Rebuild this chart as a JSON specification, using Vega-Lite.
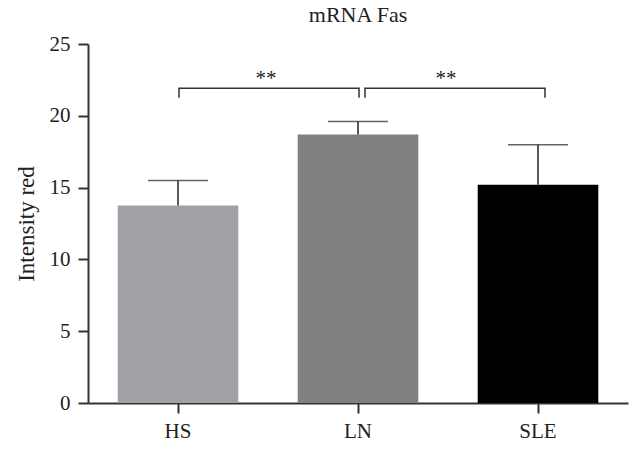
{
  "$schema": "https://vega.github.io/schema/vega-lite/v6.json",
  "width": 540,
  "height": 359,
  "autosize": {"type": "none"},
  "padding": {"left": 88, "top": 44, "right": 14, "bottom": 48},
  "background": "white",
  "title": {"text": "mRNA Fas", "font": "Liberation Serif", "fontSize": 22, "fontWeight": "normal", "color": "#222", "anchor": "middle", "offset": 6},
  "config": {
    "view": {"stroke": null},
    "axis": {"labelFont": "Liberation Serif", "titleFont": "Liberation Serif", "labelColor": "#222", "titleColor": "#222", "domainColor": "#333", "tickColor": "#333", "domainWidth": 2, "tickWidth": 2, "tickSize": 10, "grid": false, "labelFontSize": 21, "titleFontSize": 23, "titleFontWeight": "normal"}
  },
  "datasets": {
    "bars": [
      {"group": "HS", "mean": 13.75, "upper": 15.5},
      {"group": "LN", "mean": 18.7, "upper": 19.6},
      {"group": "SLE", "mean": 15.19, "upper": 17.98}
    ],
    "bracket": [
      {"pair": "a", "g": "HS", "y": 21.25, "o": 1},
      {"pair": "a", "g": "HS", "y": 21.92, "o": 2},
      {"pair": "a", "g": "LN", "y": 21.92, "o": 3},
      {"pair": "a", "g": "LN", "y": 21.25, "o": 4},
      {"pair": "b", "g": "LN", "y": 21.25, "o": 1},
      {"pair": "b", "g": "LN", "y": 21.92, "o": 2},
      {"pair": "b", "g": "SLE", "y": 21.92, "o": 3},
      {"pair": "b", "g": "SLE", "y": 21.25, "o": 4}
    ],
    "stars": [
      {"g": "HS", "label": "**"},
      {"g": "LN", "label": "**"}
    ]
  },
  "layer": [
    {
      "data": {"name": "bars"},
      "mark": {"type": "bar"},
      "encoding": {
        "x": {"field": "group", "type": "nominal", "sort": ["HS", "LN", "SLE"], "scale": {"paddingInner": 0.33, "paddingOuter": 0.165}, "axis": {"title": null, "labelAngle": 0, "labelPadding": 7}},
        "y": {"field": "mean", "type": "quantitative", "scale": {"domain": [0, 25], "nice": false}, "axis": {"title": "Intensity red", "values": [0, 5, 10, 15, 20, 25], "labelPadding": 8, "titlePadding": 11}},
        "color": {"field": "group", "type": "nominal", "scale": {"domain": ["HS", "LN", "SLE"], "range": ["#a1a0a4", "#808080", "#000000"]}, "legend": null}
      }
    },
    {
      "data": {"name": "bars"},
      "mark": {"type": "rule", "color": "#222", "strokeWidth": 1.5},
      "encoding": {
        "x": {"field": "group", "type": "nominal", "sort": ["HS", "LN", "SLE"]},
        "y": {"field": "mean", "type": "quantitative"},
        "y2": {"field": "upper"}
      }
    },
    {
      "data": {"name": "bars"},
      "mark": {"type": "tick", "color": "#222", "size": 60, "thickness": 1.5, "orient": "horizontal"},
      "encoding": {
        "x": {"field": "group", "type": "nominal", "sort": ["HS", "LN", "SLE"]},
        "y": {"field": "upper", "type": "quantitative"}
      }
    },
    {
      "data": {"name": "bracket"},
      "transform": [{"filter": "datum.pair === 'a'"}],
      "mark": {"type": "line", "color": "#333", "strokeWidth": 1.5, "xOffset": 1},
      "encoding": {
        "x": {"field": "g", "type": "nominal", "sort": ["HS", "LN", "SLE"]},
        "y": {"field": "y", "type": "quantitative"},
        "order": {"field": "o", "type": "quantitative"}
      }
    },
    {
      "data": {"name": "bracket"},
      "transform": [{"filter": "datum.pair === 'b'"}],
      "mark": {"type": "line", "color": "#333", "strokeWidth": 1.5, "xOffset": 7},
      "encoding": {
        "x": {"field": "g", "type": "nominal", "sort": ["HS", "LN", "SLE"]},
        "y": {"field": "y", "type": "quantitative"},
        "order": {"field": "o", "type": "quantitative"}
      }
    },
    {
      "data": {"name": "stars"},
      "mark": {"type": "text", "font": "Liberation Serif", "fontSize": 21, "color": "#222", "baseline": "middle"},
      "encoding": {
        "x": {"field": "g", "type": "nominal", "sort": ["HS", "LN", "SLE"], "bandPosition": 1.23},
        "y": {"datum": 22.55},
        "text": {"field": "label"}
      }
    }
  ]
}
